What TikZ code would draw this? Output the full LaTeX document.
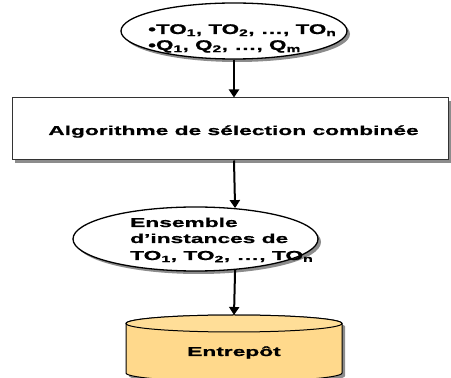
\documentclass[tikz,border=0pt]{standalone}
\usepackage{fontspec}
\setmainfont{Liberation Sans}
\newfontfamily\wfont[FakeStretch=1.75,BoldFeatures={FakeBold=0.8}]{Liberation Sans}
\newfontfamily\tfont[FakeStretch=1.6,BoldFeatures={FakeBold=0.8}]{Liberation Sans}
\usetikzlibrary{arrows.meta,shapes.geometric,shadows}
\definecolor{cylbody}{RGB}{255,217,140}
\definecolor{cyltop}{RGB}{255,222,152}
\definecolor{shd}{RGB}{140,140,140}
\begin{document}
\begin{tikzpicture}[x=1pt,y=1pt,
  shdw/.style={drop shadow={shadow xshift=3pt,shadow yshift=-3pt,fill=shd,opacity=1}},
  ell/.style={ellipse,draw=black,line width=1.3pt,fill=white,inner sep=0pt,shdw},
  box/.style={rectangle,draw=black!80,line width=1pt,fill=white,inner sep=0pt,shdw},
  lbl/.style={inner sep=0pt,font=\wfont\bfseries\fontsize{13}{16.5}\selectfont},
  tlbl/.style={inner sep=0pt,font=\tfont\bfseries\fontsize{14}{17}\selectfont},
  arr/.style={line width=2pt,-{Triangle[width=10pt,length=8pt]}}]
\useasboundingbox (0,0) rectangle (451,378);
% top ellipse
\node[ell,minimum width=226,minimum height=56] (e1) at (234,347) {};
\node[tlbl,anchor=base west] (t1) at (148,344) {\textbullet TO\textsubscript{1}, TO\textsubscript{2}, \dots, TO\textsubscript{n}};
\node[tlbl,anchor=base west] (t2) at (148,328) {\textbullet Q\textsubscript{1}, Q\textsubscript{2}, \dots, Q\textsubscript{m}};
% rectangle
\node[box,minimum width=436,minimum height=62] (r) at (230,249) {};
\node[lbl,anchor=base] (rt) at (233.5,243) {Algorithme de sélection combinée};
% middle ellipse
\node[ell,minimum width=245,minimum height=64] (e2) at (195.5,139) {};
\node[lbl,anchor=base west] (m1) at (130,151) {Ensemble};
\node[lbl,anchor=base west] (m2) at (130,135) {d’instances de};
\node[lbl,anchor=base west] (m3) at (130,118) {TO\textsubscript{1}, TO\textsubscript{2}, \dots, TO\textsubscript{n}};
% cylinder
\fill[shd] (129,51.5) -- (129,2) arc[start angle=180,end angle=360,x radius=108,y radius=8.5] -- (345,51.5) arc[start angle=0,end angle=180,x radius=108,y radius=8.5] -- cycle;
\draw[line width=1pt,fill=cylbody] (126,54.5) -- (126,5) arc[start angle=180,end angle=360,x radius=108,y radius=8.5] -- (342,54.5) arc[start angle=0,end angle=180,x radius=108,y radius=8.5] -- cycle;
\draw[line width=1pt,fill=cyltop] (234,54.5) ellipse[x radius=108,y radius=8.5];
\coordinate (ctop) at (234,63);
\node[lbl,anchor=base] (c) at (234,22) {Entrepôt};
% arrows
\draw[arr] (e1.south) -- (e1.south |- r.north);
\draw[arr] (r.south -| e1.south) -- (e2.38.3);
\draw[arr] (e2.-38.3) -- (ctop);
\end{tikzpicture}
\end{document}
